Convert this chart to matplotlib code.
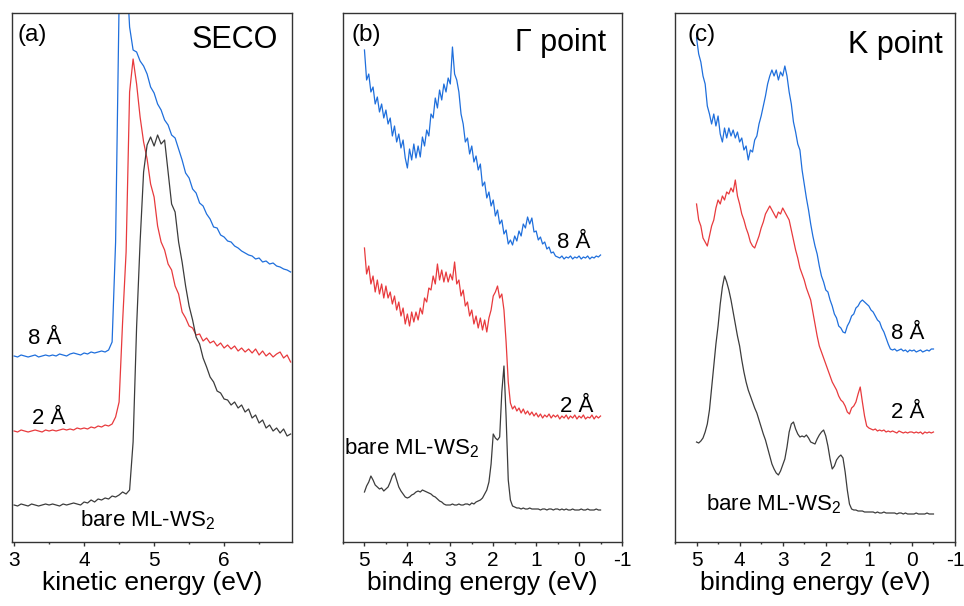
import matplotlib.pyplot as plt
from matplotlib.ticker import MultipleLocator

plt.rcParams['font.family'] = ['Liberation Sans', 'DejaVu Sans']
plt.rcParams['mathtext.fontset'] = 'custom'
plt.rcParams['mathtext.rm'] = 'Liberation Sans'
plt.rcParams['axes.unicode_minus'] = False

BLUE = '#1f6fdc'
RED = '#e83a3d'
BLACK = '#3c3c3c'

# ---- SECO: kinetic energy grid (eV) and intensities (arb. units) ----
ke = [3.00, 3.05, 3.10, 3.15, 3.20, 3.25, 3.30, 3.35, 3.40, 3.45,
      3.50, 3.55, 3.60, 3.65, 3.70, 3.75, 3.80, 3.85, 3.90, 3.95,
      4.00, 4.05, 4.10, 4.15, 4.20, 4.25, 4.30, 4.35, 4.40, 4.45,
      4.50, 4.55, 4.60, 4.65, 4.70, 4.75, 4.80, 4.85, 4.90, 4.95,
      5.00, 5.05, 5.10, 5.15, 5.20, 5.25, 5.30, 5.35, 5.40, 5.45,
      5.50, 5.55, 5.60, 5.65, 5.70, 5.75, 5.80, 5.85, 5.90, 5.95,
      6.00, 6.05, 6.10, 6.15, 6.20, 6.25, 6.30, 6.35, 6.40, 6.45,
      6.50, 6.55, 6.60, 6.65, 6.70, 6.75, 6.80, 6.85, 6.90, 6.95]

seco_8A = [186, 185, 187, 186, 185, 186, 187, 185, 186, 187,
           186, 187, 186, 188, 187, 186, 188, 189, 188, 187,
           189, 188, 190, 189, 190, 191, 190, 192, 200, 300,
           540, 620, 580, 515, 492, 490, 481, 476, 468, 455,
           449, 438, 432, 422, 417, 407, 404, 393, 382, 369,
           364, 353, 349, 339, 336, 328, 323, 315, 314, 307,
           305, 301, 300, 296, 294, 291, 289, 287, 286, 283,
           284, 280, 281, 278, 279, 276, 275, 273, 272, 270]

seco_2A = [111, 110, 112, 111, 110, 111, 112, 111, 110, 112,
           111, 112, 111, 112, 113, 112, 113, 112, 114, 113,
           114, 113, 115, 114, 116, 115, 117, 116, 118, 125,
           140, 220, 290, 450, 483, 458, 425, 400, 383, 358,
           345, 316, 300, 292, 278, 272, 256, 248, 230, 224,
           216, 214, 207, 208, 201, 204, 199, 201, 196, 199,
           194, 197, 193, 196, 191, 194, 190, 193, 189, 193,
           187, 191, 186, 189, 185, 188, 190, 184, 187, 180]

seco_bare = [37, 36, 38, 37, 36, 38, 37, 36, 37, 38,
             37, 38, 37, 36, 38, 37, 38, 39, 38, 37,
             40, 39, 42, 40, 43, 42, 44, 43, 46, 45,
             47, 50, 48, 52, 100, 215, 300, 370, 397, 405,
             396, 407, 398, 402, 370, 338, 330, 300, 280, 256,
             236, 222, 205, 198, 184, 175, 165, 160, 151, 149,
             143, 142, 137, 140, 134, 137, 130, 133, 124, 127,
             119, 122, 114, 117, 111, 114, 109, 113, 106, 108]

# ---- valence band: binding energy grid (eV) shared by Gamma and K ----
be = [5.00, 4.95, 4.90, 4.85, 4.80, 4.75, 4.70, 4.65, 4.60, 4.55,
      4.50, 4.45, 4.40, 4.35, 4.30, 4.25, 4.20, 4.15, 4.10, 4.05,
      4.00, 3.95, 3.90, 3.85, 3.80, 3.75, 3.70, 3.65, 3.60, 3.55,
      3.50, 3.45, 3.40, 3.35, 3.30, 3.25, 3.20, 3.15, 3.10, 3.05,
      3.00, 2.95, 2.90, 2.85, 2.80, 2.75, 2.70, 2.65, 2.60, 2.55,
      2.50, 2.45, 2.40, 2.35, 2.30, 2.25, 2.20, 2.15, 2.10, 2.05,
      2.00, 1.95, 1.90, 1.85, 1.80, 1.75, 1.70, 1.65, 1.60, 1.55,
      1.50, 1.45, 1.40, 1.35, 1.30, 1.25, 1.20, 1.15, 1.10, 1.05,
      1.00, 0.95, 0.90, 0.85, 0.80, 0.75, 0.70, 0.65, 0.60, 0.55,
      0.50, 0.45, 0.40, 0.35, 0.30, 0.25, 0.20, 0.15, 0.10, 0.05,
      0.00, -0.05, -0.10, -0.15, -0.20, -0.25, -0.30, -0.35, -0.40, -0.45,
      -0.50]

gamma_8A = [492, 462, 468, 450, 455, 438, 445, 430, 438, 424,
            432, 418, 424, 406, 416, 400, 408, 394, 402, 384,
            374, 393, 382, 398, 384, 396, 385, 405, 396, 412,
            406, 428, 424, 444, 434, 452, 442, 458, 450, 464,
            458, 495, 468, 462, 450, 428, 418, 400, 404, 388,
            396, 380, 386, 372, 378, 356, 360, 344, 350, 336,
            342, 326, 332, 318, 322, 308, 312, 298, 302, 297,
            306, 301, 311, 306, 318, 314, 325, 318, 324, 310,
            311, 302, 305, 298, 300, 293, 295, 289, 290, 286,
            285, 284, 286, 283, 285, 284, 286, 283, 285, 284,
            286, 283, 285, 284, 286, 283, 285, 284, 286, 285,
            287]

gamma_2A = [294, 268, 276, 258, 266, 250, 262, 248, 258, 244,
            256, 244, 250, 238, 246, 232, 240, 226, 234, 218,
            228, 216, 230, 220, 230, 222, 234, 228, 244, 240,
            254, 252, 266, 258, 278, 262, 272, 260, 270, 260,
            268, 262, 280, 258, 262, 246, 252, 236, 240, 226,
            232, 218, 226, 214, 224, 212, 222, 210, 224, 232,
            246, 250, 256, 244, 248, 232, 200, 160, 139, 133,
            136, 131, 134, 129, 133, 128, 131, 127, 130, 126,
            129, 125, 128, 124, 127, 125, 128, 124, 127, 125,
            127, 123, 126, 124, 127, 123, 126, 124, 127, 123,
            126, 124, 127, 123, 125, 124, 127, 123, 126, 124,
            126]

gamma_bare = [50, 56, 60, 66, 62, 57, 55, 53, 54, 51,
              53, 55, 60, 66, 69, 62, 55, 51, 48, 45,
              44, 45, 47, 48, 50, 51, 50, 52, 51, 50,
              49, 48, 46, 45, 43, 41, 40, 38, 37, 37,
              37, 38, 37, 37, 38, 37, 37, 38, 38, 37,
              39, 38, 40, 41, 42, 44, 48, 52, 60, 78,
              108, 104, 102, 105, 150, 176, 125, 62, 42, 36,
              35, 34, 34, 33, 34, 33, 33, 34, 33, 33,
              33, 33, 32, 33, 33, 32, 33, 33, 32, 33,
              33, 32, 33, 32, 33, 32, 32, 33, 32, 32,
              32, 33, 32, 32, 33, 32, 32, 32, 33, 32,
              32]

k_8A = [504, 488, 480, 466, 458, 436, 428, 418, 428, 416,
        426, 408, 400, 414, 404, 414, 406, 412, 404, 410,
        400, 404, 392, 396, 382, 392, 390, 402, 406, 418,
        426, 436, 446, 458, 466, 472, 466, 472, 462, 470,
        466, 476, 466, 450, 438, 420, 410, 398, 392, 372,
        358, 344, 332, 318, 306, 296, 288, 276, 266, 260,
        252, 250, 242, 236, 228, 224, 216, 214, 210, 209,
        216, 220, 226, 228, 234, 236, 240, 242, 240, 238,
        236, 232, 230, 226, 222, 220, 214, 210, 204, 198,
        193, 192, 193, 191, 192, 193, 191, 192, 190, 192,
        191, 192, 190, 191, 192, 190, 191, 192, 191, 193,
        193]

k_2A = [338, 322, 316, 304, 300, 296, 306, 316, 322, 334,
        342, 338, 346, 342, 350, 348, 354, 350, 362, 346,
        338, 328, 322, 314, 308, 300, 296, 294, 300, 306,
        314, 320, 328, 332, 336, 332, 328, 324, 330, 328,
        334, 330, 326, 322, 312, 302, 292, 284, 274, 268,
        262, 254, 248, 242, 230, 218, 206, 196, 190, 184,
        178, 172, 166, 160, 156, 152, 146, 142, 140, 136,
        130, 128, 134, 136, 140, 148, 155, 140, 126, 116,
        114, 113, 112, 113, 111, 112, 111, 112, 110, 111,
        110, 111, 110, 109, 111, 110, 109, 110, 109, 110,
        110, 109, 110, 109, 110, 108, 110, 109, 110, 109,
        110]

k_bare = [100, 99, 101, 104, 110, 118, 132, 154, 176, 198,
          216, 238, 255, 266, 260, 252, 242, 230, 218, 206,
          196, 182, 170, 160, 152, 146, 140, 134, 129, 122,
          115, 108, 102, 94, 86, 78, 73, 69, 67, 71,
          77, 83, 95, 110, 118, 120, 113, 108, 105, 106,
          105, 107, 104, 100, 99, 98, 103, 107, 110, 112,
          106, 96, 83, 73, 76, 82, 85, 87, 84, 70,
          52, 38, 33, 32, 32, 31, 31, 31, 30, 30,
          30, 30, 30, 29, 30, 29, 29, 30, 29, 29,
          29, 29, 29, 28, 29, 29, 28, 29, 28, 28,
          28, 28, 29, 28, 28, 28, 28, 29, 28, 28,
          28]

fig = plt.figure(figsize=(9.64, 6.06), dpi=100)
W, H = 964, 606


def make_axes(left, right, top=13, bottom=542):
    return fig.add_axes([left / W, 1 - bottom / H, (right - left) / W, (bottom - top) / H])


def style(ax, xlabel):
    for sp in ax.spines.values():
        sp.set_linewidth(1.0)
        sp.set_color('#333333')
    ax.set_yticks([])
    ax.set_ylim(0, 529)
    ax.xaxis.set_major_locator(MultipleLocator(1))
    ax.xaxis.set_minor_locator(MultipleLocator(0.5))
    ax.tick_params(axis='x', which='major', direction='out', length=3, width=1,
                   labelsize=15, pad=3.5, colors='#333333', labelcolor='black')
    ax.tick_params(axis='x', which='minor', direction='out', length=1.6, width=1,
                   colors='#333333')
    ax.set_xlabel(xlabel, fontsize=19, labelpad=0.5)


lw = 0.9
sub2 = 'bare ML-WS$_\\mathregular{2}$'

# (a) secondary electron cutoff
ax1 = make_axes(12, 292)
ax1.plot(ke, seco_8A, color=BLUE, lw=lw)
ax1.plot(ke, seco_2A, color=RED, lw=lw)
ax1.plot(ke, seco_bare, color=BLACK, lw=lw)
ax1.set_xlim(2.97, 6.97)
style(ax1, 'kinetic energy (eV)')
ax1.text(0.02, 0.958, '(a)', transform=ax1.transAxes, fontsize=17.5, ha='left', va='center')
ax1.text(0.95, 0.949, 'SECO', transform=ax1.transAxes, fontsize=22, ha='right', va='center')
ax1.text(3.44, 204, '8 Å', fontsize=16, ha='center', va='center')
ax1.text(3.49, 124, '2 Å', fontsize=16, ha='center', va='center')
ax1.text(4.90, 22, sub2, fontsize=16, ha='center', va='center')

# (b) Gamma point
ax2 = make_axes(343, 622)
ax2.plot(be, gamma_8A, color=BLUE, lw=lw)
ax2.plot(be, gamma_2A, color=RED, lw=lw)
ax2.plot(be, gamma_bare, color=BLACK, lw=lw)
ax2.set_xlim(5.5, -1)
style(ax2, 'binding energy (eV)')
ax2.text(0.032, 0.958, '(b)', transform=ax2.transAxes, fontsize=17.5, ha='left', va='center')
ax2.text(0.943, 0.943, 'Γ point', transform=ax2.transAxes, fontsize=22, ha='right', va='center')
ax2.text(0.12, 300, '8 Å', fontsize=16, ha='center', va='center')
ax2.text(0.05, 135, '2 Å', fontsize=16, ha='center', va='center')
ax2.text(3.91, 94, sub2, fontsize=16, ha='center', va='center')

# (c) K point
ax3 = make_axes(675, 955)
ax3.plot(be, k_8A, color=BLUE, lw=lw)
ax3.plot(be, k_2A, color=RED, lw=lw)
ax3.plot(be, k_bare, color=BLACK, lw=lw)
ax3.set_xlim(5.5, -1)
style(ax3, 'binding energy (eV)')
ax3.text(0.043, 0.958, '(c)', transform=ax3.transAxes, fontsize=17.5, ha='left', va='center')
ax3.text(0.957, 0.94, 'K point', transform=ax3.transAxes, fontsize=22, ha='right', va='center')
ax3.text(0.09, 209, '8 Å', fontsize=16, ha='center', va='center')
ax3.text(0.09, 130, '2 Å', fontsize=16, ha='center', va='center')
ax3.text(3.21, 38, sub2, fontsize=16, ha='center', va='center')

fig.savefig('out.png', dpi=100)
